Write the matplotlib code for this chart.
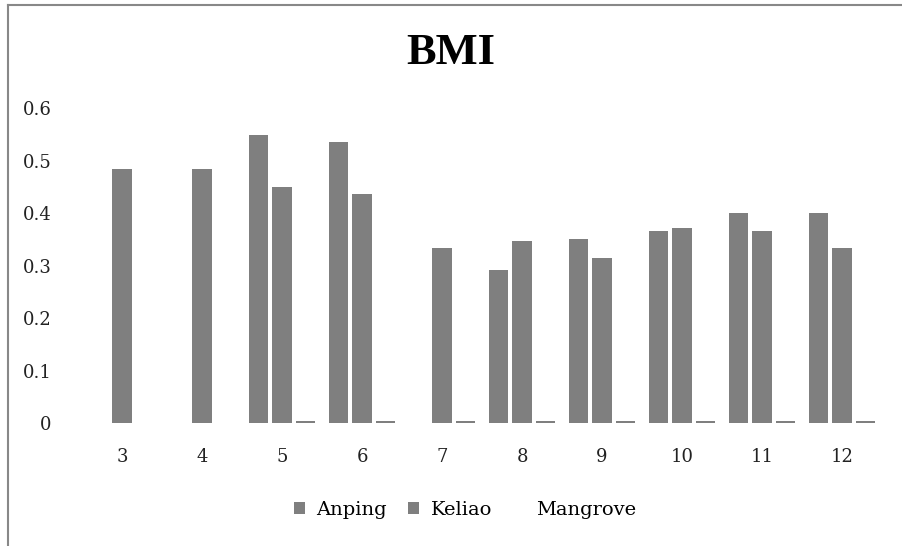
import matplotlib.pyplot as plt
import numpy as np
from matplotlib.lines import Line2D

months = ['3', '4', '5', '6', '7', '8', '9', '10', '11', '12']
anping = [np.nan, np.nan, 0.549, 0.535, np.nan, 0.292, 0.350, 0.366, 0.400, 0.400]
keliao = [0.484, 0.484, 0.450, 0.436, 0.333, 0.347, 0.314, 0.372, 0.366, 0.333]
mangrove = [np.nan, np.nan, 0.003, 0.003, 0.003, 0.003, 0.003, 0.003, 0.003, 0.003]
series = ['Anping', 'Keliao', 'Mangrove']

plt.rcParams['font.family'] = ['DejaVu Serif']

fig = plt.figure(figsize=(9.02, 5.46), dpi=100)
ax = fig.add_axes([82 / 902, 1 - 423 / 546, 800 / 902, 315 / 546])

x = np.arange(len(months))
w = 0.24
step = 0.29
bar_color = '#7f7f7f'
for i, vals in enumerate([anping, keliao, mangrove]):
    ax.bar(x + (i - 1) * step, vals, width=w, color=bar_color, label=series[i])

ax.set_xlim(-0.5, len(months) - 0.5)
ax.set_ylim(0, 0.6)
ax.set_yticks([0, 0.1, 0.2, 0.3, 0.4, 0.5, 0.6])
ax.set_yticklabels(['0', '0.1', '0.2', '0.3', '0.4', '0.5', '0.6'])
ax.set_xticks(x)
ax.set_xticklabels(months)
ax.tick_params(axis='both', length=0, labelsize=13, colors='#222222')
ax.tick_params(axis='y', pad=22)
ax.tick_params(axis='x', pad=18)
for s in ax.spines.values():
    s.set_visible(False)

fig.text(0.5, 1 - 53 / 546, 'BMI', ha='center', va='center',
         fontsize=32, fontweight='bold', family='Liberation Serif')

leg = fig.legend(loc='center', bbox_to_anchor=(465 / 902, 1 - 510 / 546), ncol=3,
                 frameon=False, fontsize=14, handlelength=0.55, handleheight=0.55,
                 handletextpad=0.6, columnspacing=1.1)
leg.legend_handles[2].set_visible(False)

# outer chart border
fig.add_artist(Line2D([8 / 902, 8 / 902], [0.002, 1 - 5 / 546], color='#888888', lw=1.5,
                      transform=fig.transFigure))
fig.add_artist(Line2D([8 / 902, 1], [1 - 5 / 546, 1 - 5 / 546], color='#888888', lw=1.5,
                      transform=fig.transFigure))

fig.savefig('out.png', dpi=100)
